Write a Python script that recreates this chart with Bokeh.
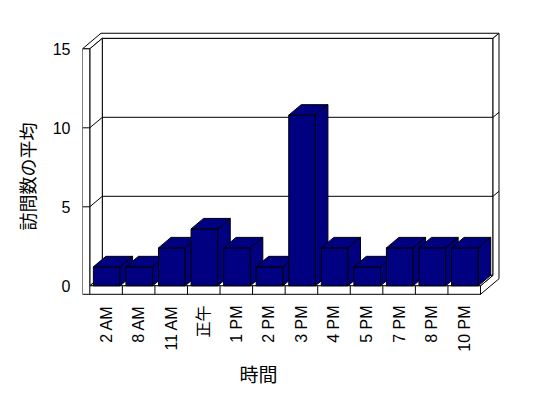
from math import pi
from bokeh.plotting import figure
from bokeh.models import FixedTicker, Title
from bokeh.embed import file_html
from bokeh.resources import INLINE

# ---- data ----
categories = ["2 AM", "8 AM", "11 AM", "正午", "1 PM", "2 PM", "3 PM",
              "4 PM", "5 PM", "7 PM", "8 PM", "10 PM"]
values = [1.2, 1.2, 2.4, 3.6, 2.4, 1.2, 10.8, 2.4, 1.2, 2.4, 2.4, 2.4]
y_ticks = [0, 5, 10, 15]
x_title = "時間"
y_title = "訪問数の平均"

N = len(categories)
YMAX = y_ticks[-1]

# ---- layout (pixels) ----
W, H = 548, 398
FRAME_L, FRAME_R, FRAME_T, FRAME_B = 82, 500, 30, 296
X0PX, XNPX = 89.3, 480.0      # pixel of x=0 and x=N
Y0PX, YMPX = 285.3, 48.3      # pixel of y=0 and y=YMAX
sx = (XNPX - X0PX) / N
sy = (Y0PX - YMPX) / YMAX


def px2x(px):
    return (px - X0PX) / sx


def px2y(py):
    return (Y0PX - py) / sy


DX = 12.5 / sx      # depth offset of the interior box
DY = 10.5 / sy
B = 0.48            # back wall thickness (fraction of depth)
WL = 7.3 / sx       # left wall thickness
FT = 8.5 / sy       # floor thickness
BAR_L, BAR_R = 0.11, 0.93

NAVY = "#000080"
LINE = "black"


def proj(pts):
    xs = [x + d * DX for x, y, d in pts]
    ys = [y + d * DY for x, y, d in pts]
    return xs, ys


p = figure(width=W, height=H,
           x_range=(px2x(FRAME_L), px2x(FRAME_R)),
           y_range=(px2y(FRAME_B), px2y(FRAME_T)),
           min_border_left=FRAME_L, min_border_right=W - FRAME_R,
           min_border_top=FRAME_T, min_border_bottom=H - FRAME_B,
           output_backend="svg", toolbar_location=None)
p.outline_line_color = None
p.xgrid.visible = False
p.ygrid.visible = False
p.background_fill_color = "white"
p.border_fill_color = "white"

# ---- walls / floor ----
walls = [
    # back wall inner face
    [(0, 0, 1), (N, 0, 1), (N, YMAX, 1), (0, YMAX, 1)],
    # top faces (left wall + back wall)
    [(-WL, YMAX, 0), (0, YMAX, 0), (0, YMAX, 1), (N, YMAX, 1),
     (N, YMAX, 1 + B), (-WL, YMAX, 1 + B)],
    # right faces (floor + back wall)
    [(N, -FT, 0), (N, -FT, 1 + B), (N, YMAX, 1 + B), (N, YMAX, 1),
     (N, 0, 1), (N, 0, 0)],
    # left wall inner face
    [(0, 0, 0), (0, YMAX, 0), (0, YMAX, 1), (0, 0, 1)],
    # floor top
    [(0, 0, 0), (N, 0, 0), (N, 0, 1), (0, 0, 1)],
    # front face (left wall + floor)
    [(-WL, -FT, 0), (N, -FT, 0), (N, 0, 0), (0, 0, 0), (0, YMAX, 0),
     (-WL, YMAX, 0)],
]
wx, wy = zip(*[proj(w) for w in walls])
p.patches(xs=list(wx), ys=list(wy), fill_color="white", line_color=LINE,
          line_width=1)

# gridlines
gx, gy = [], []
for t in y_ticks[1:-1]:
    xs, ys = proj([(-WL, t, 0), (0, t, 0), (0, t, 1), (N, t, 1),
                   (N, t, 1 + B)])
    gx.append(xs)
    gy.append(ys)
p.multi_line(xs=gx, ys=gy, line_color=LINE, line_width=1)

# floor front dividers
p.segment(x0=list(range(N + 1)), y0=[-FT] * (N + 1),
          x1=list(range(N + 1)), y1=[0] * (N + 1),
          line_color=LINE, line_width=1)

# ---- bars ----
bx, by = [], []
for i, v in enumerate(values):
    x0, x1 = i + BAR_L, i + BAR_R
    for face in ([(x0, 0, 0), (x1, 0, 0), (x1, v, 0), (x0, v, 0)],
                 [(x0, v, 0), (x1, v, 0), (x1, v, 1), (x0, v, 1)],
                 [(x1, 0, 0), (x1, 0, 1), (x1, v, 1), (x1, v, 0)]):
        xs, ys = proj(face)
        bx.append(xs)
        by.append(ys)
p.patches(xs=bx, ys=by, fill_color=NAVY, line_color=LINE, line_width=1)

# ---- axes ----
FONT = "Liberation Sans, Noto Sans CJK JP"
yax = p.yaxis[0]
yax.ticker = FixedTicker(ticks=y_ticks)
yax.axis_line_color = None
yax.major_tick_line_color = None
yax.minor_tick_line_color = None
yax.major_tick_out = 0
yax.major_tick_in = 0
yax.major_label_standoff = 12
yax.major_label_text_font = FONT
yax.major_label_text_font_size = "16px"
yax.major_label_text_color = "black"

xax = p.xaxis[0]
ticks = [i + 0.5 for i in range(N)]
xax.ticker = FixedTicker(ticks=ticks)
xax.major_label_overrides = {t: c for t, c in zip(ticks, categories)}
xax.major_label_orientation = pi / 2
xax.axis_line_color = None
xax.major_tick_line_color = None
xax.minor_tick_line_color = None
xax.major_tick_out = 0
xax.major_tick_in = 0
xax.major_label_standoff = 9
xax.major_label_text_font = FONT
xax.major_label_text_font_size = "16px"
xax.major_label_text_color = "black"

# titles: left-aligned with pixel offsets from the frame edge
p.add_layout(Title(text=x_title, align="left", offset=239 - FRAME_L,
                   text_font="Noto Sans CJK JP", text_font_size="19px",
                   text_font_style="normal", text_color="black",
                   standoff=6), "below")
p.add_layout(Title(text=y_title, align="left", offset=FRAME_B - 230,
                   text_font="Noto Sans CJK JP", text_font_size="18px",
                   text_font_style="normal", text_color="black",
                   standoff=19), "left")

open("out.html", "w").write(file_html(p, INLINE))
